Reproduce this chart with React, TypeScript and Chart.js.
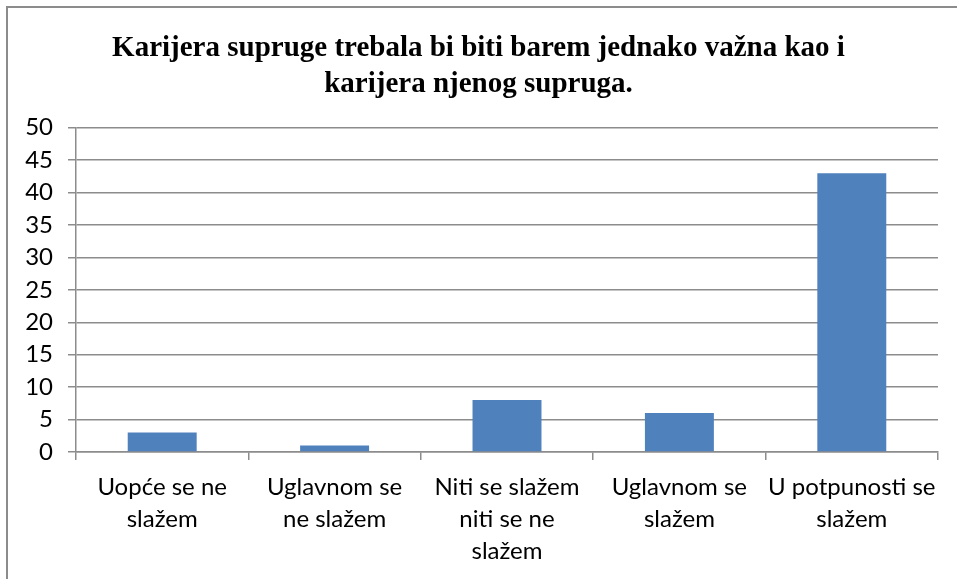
import React, { useEffect, useRef } from "react";
import { Chart, registerables } from "chart.js";

Chart.register(...registerables);

const titleLines = [
  "Karijera supruge trebala bi biti barem jednako važna kao i",
  "karijera njenog supruga.",
];
const categories: string[][] = [
  ["Uopće se ne", "slažem"],
  ["Uglavnom se", "ne slažem"],
  ["Niti se slažem", "niti se ne", "slažem"],
  ["Uglavnom se", "slažem"],
  ["U potpunosti se", "slažem"],
];
const values = [3, 1, 8, 6, 43];
const yMin = 0;
const yMax = 50;
const yStep = 5;

export default function App() {
  const ref = useRef<HTMLCanvasElement | null>(null);
  useEffect(() => {
    if (!ref.current) return;
    const grid = "#8c8c8c";
    const chart = new Chart(ref.current, {
      type: "bar",
      data: {
        labels: categories,
        datasets: [
          {
            data: values,
            backgroundColor: "#4f81bd",
            borderWidth: 0,
            categoryPercentage: 1,
            barPercentage: 0.4,
          },
        ],
      },
      options: {
        responsive: false,
        animation: false,
        devicePixelRatio: 1,
        layout: { padding: { left: 19, right: 19, top: 0, bottom: 0 } },
        plugins: {
          legend: { display: false },
          tooltip: { enabled: false },
          title: {
            display: true,
            text: titleLines,
            color: "#000",
            font: { family: "'Liberation Serif', 'Times New Roman', serif", size: 29, weight: "bold", lineHeight: 1.22 },
            padding: { top: 31, bottom: 26 },
          },
        },
        scales: {
          x: {
            afterFit: (s: any) => { s.height = 127; },
            grid: {
              offset: true,
              drawOnChartArea: false,
              drawTicks: true,
              tickLength: 8,
              color: grid,
              lineWidth: 1.5,
            },
            border: { color: grid, width: 1.5 },
            ticks: {
              color: "#000",
              padding: 11,
              maxRotation: 0,
              autoSkip: false,
              font: { family: "Lato, 'Open Sans', sans-serif", size: 24, lineHeight: 1.33 },
            },
          },
          y: {
            min: yMin,
            max: yMax,
            afterFit: (s: any) => { s.width = 57; },
            grid: { color: grid, lineWidth: 1.5, tickLength: 8, drawTicks: true },
            border: { color: grid, width: 1.5 },
            ticks: {
              stepSize: yStep,
              color: "#000",
              padding: 15,
              font: { family: "Lato, 'Open Sans', sans-serif", size: 24 },
            },
          },
        },
      },
    });
    return () => chart.destroy();
  }, []);
  return (
    <div style={{ position: "fixed", left: 0, top: 0, width: 957, height: 579, background: "#fff", overflow: "hidden" }}>
      <canvas ref={ref} width={957} height={579} style={{ position: "absolute", left: 0, top: 0, width: 957, height: 579 }} />
      <div style={{ position: "absolute", left: 6, top: 6, width: 1000, height: 1000, borderLeft: "2px solid #8c8c8c", borderTop: "2px solid #8c8c8c", boxSizing: "border-box", pointerEvents: "none" }} />
    </div>
  );
}
